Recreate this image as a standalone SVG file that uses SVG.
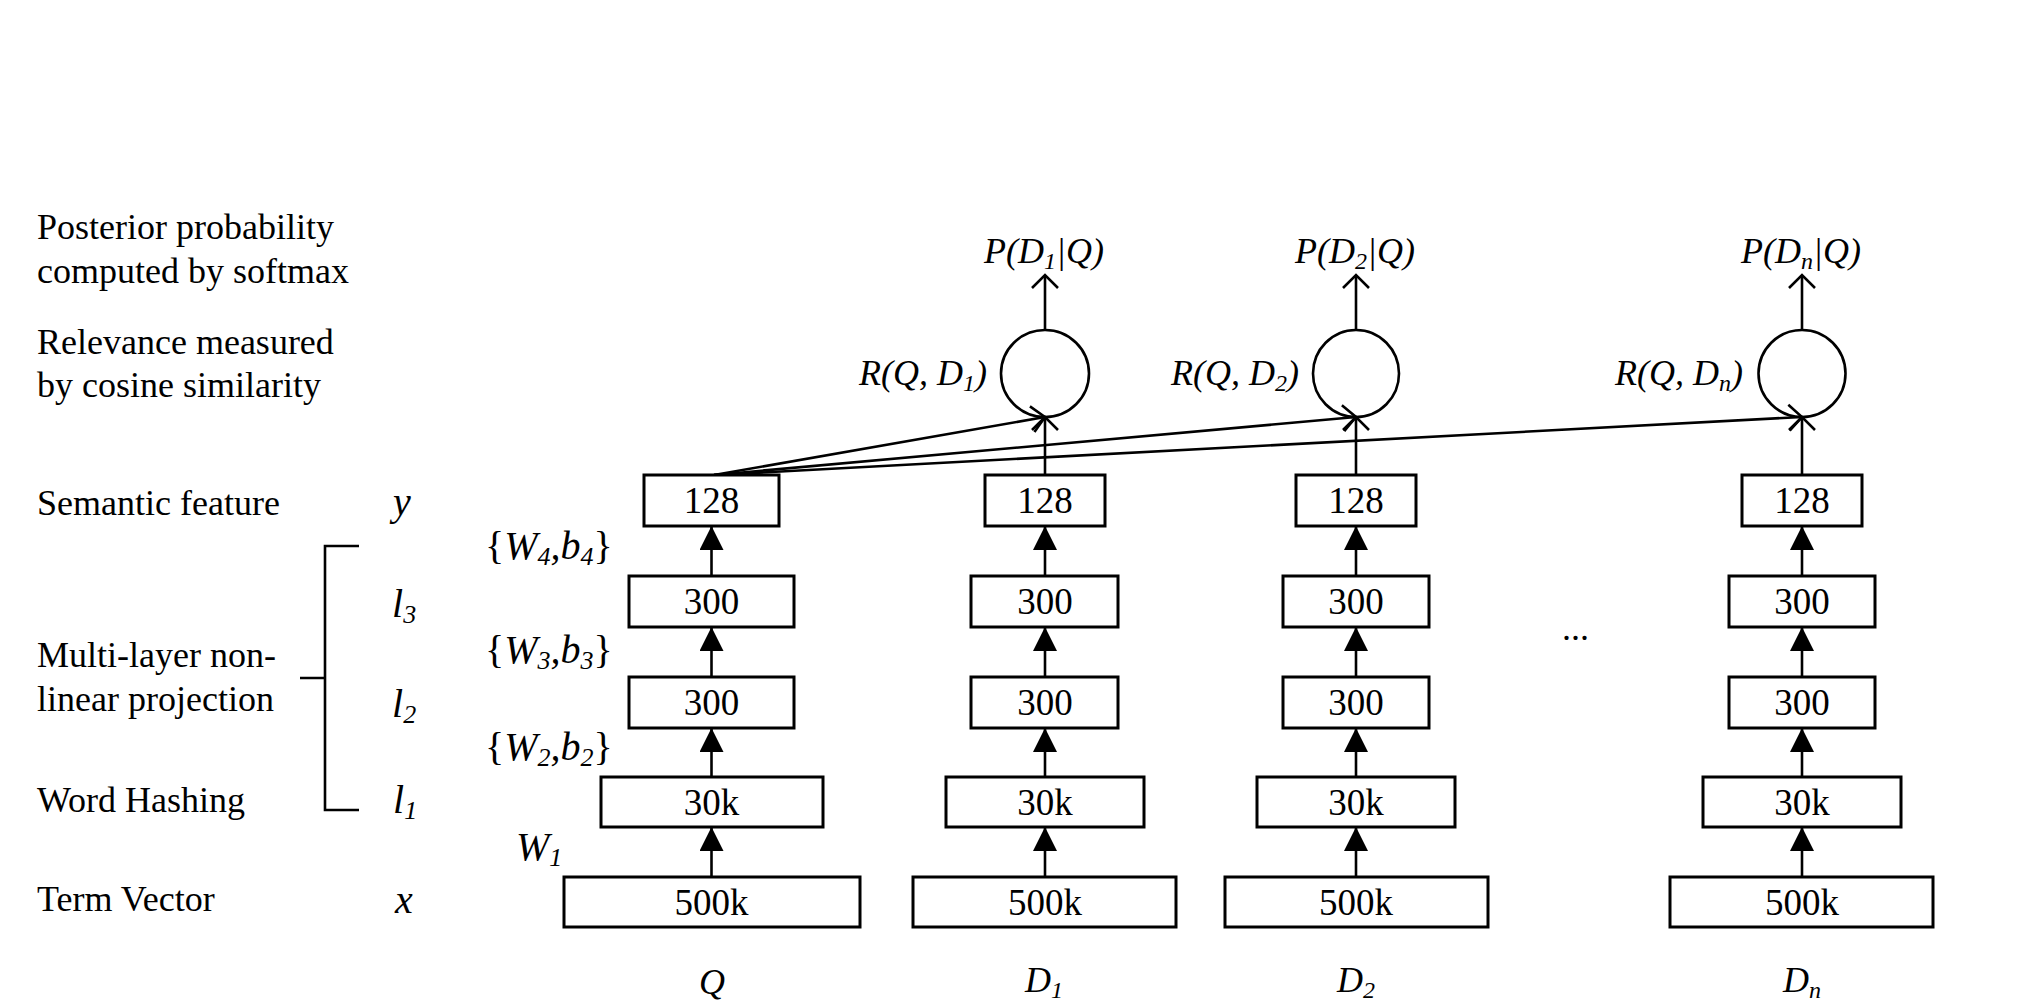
<svg xmlns="http://www.w3.org/2000/svg" width="2018" height="1006" viewBox="0 0 2018 1006">
<style>
text{font-family:"Liberation Serif","Times New Roman",serif;font-size:36px;fill:#000}
.it{font-style:italic}
.var{font-style:italic;font-size:40px}
.sub{font-size:26px}
.up{font-style:normal}
.box{fill:#fff;stroke:#000;stroke-width:3}
.num{text-anchor:middle;font-size:37px}
.circ{fill:none;stroke:#000;stroke-width:2.6}
.ln{stroke:#000;stroke-width:2.6;fill:none}
.fa{marker-end:url(#fill)}
.oa{marker-end:url(#open)}
.brk{stroke:#000;stroke-width:2.6;fill:none}
</style>
<defs>
<marker id="fill" viewBox="0 0 24 24" refX="24" refY="12" markerWidth="24" markerHeight="24" markerUnits="userSpaceOnUse" orient="auto">
<path d="M0,0 L24,12 L0,24 Z" fill="#000"/>
</marker>
<marker id="open" viewBox="-3 -3 19 32" refX="13" refY="13" markerWidth="19" markerHeight="32" markerUnits="userSpaceOnUse" orient="auto">
<path d="M0,0 L13,13 L0,26" fill="none" stroke="#000" stroke-width="2.6"/>
</marker>
</defs>
<rect width="2018" height="1006" fill="#fff"/>

<g id="left-labels">
<text x="37" y="239">Posterior probability</text>
<text x="37" y="283">computed by softmax</text>
<text x="37" y="354">Relevance measured</text>
<text x="37" y="397">by cosine similarity</text>
<text x="37" y="515">Semantic feature</text>
<text x="37" y="667">Multi-layer non-</text>
<text x="37" y="711">linear projection</text>
<text x="37" y="812">Word Hashing</text>
<text x="37" y="911">Term Vector</text>
<text class="var" x="393" y="515">y</text>
<text class="var" x="392" y="617">l<tspan class="sub" dy="6">3</tspan></text>
<text class="var" x="392" y="717">l<tspan class="sub" dy="6">2</tspan></text>
<text class="var" x="393" y="813">l<tspan class="sub" dy="6">1</tspan></text>
<text class="var" x="395" y="913">x</text>
<text class="var" x="485" y="559"><tspan class="up">{</tspan>W<tspan class="sub" dy="6">4</tspan><tspan dy="-6">,b</tspan><tspan class="sub" dy="6">4</tspan><tspan class="up" dy="-6">}</tspan></text>
<text class="var" x="485" y="663"><tspan class="up">{</tspan>W<tspan class="sub" dy="6">3</tspan><tspan dy="-6">,b</tspan><tspan class="sub" dy="6">3</tspan><tspan class="up" dy="-6">}</tspan></text>
<text class="var" x="485" y="760"><tspan class="up">{</tspan>W<tspan class="sub" dy="6">2</tspan><tspan dy="-6">,b</tspan><tspan class="sub" dy="6">2</tspan><tspan class="up" dy="-6">}</tspan></text>
<text class="var" x="516" y="860">W<tspan class="sub" dy="6">1</tspan></text>
<path class="brk" d="M359,546 H325 V810 H359 M300,678 H325"/>
</g>

<g id="connectors">
<line class="ln fa" x1="711.5" y1="877" x2="711.5" y2="827"/>
<line class="ln fa" x1="711.5" y1="777" x2="711.5" y2="728"/>
<line class="ln fa" x1="711.5" y1="677" x2="711.5" y2="627"/>
<line class="ln fa" x1="711.5" y1="576" x2="711.5" y2="526"/>
<line class="ln fa" x1="1045" y1="877" x2="1045" y2="827"/>
<line class="ln fa" x1="1045" y1="777" x2="1045" y2="728"/>
<line class="ln fa" x1="1045" y1="677" x2="1045" y2="627"/>
<line class="ln fa" x1="1045" y1="576" x2="1045" y2="526"/>
<line class="ln fa" x1="1356" y1="877" x2="1356" y2="827"/>
<line class="ln fa" x1="1356" y1="777" x2="1356" y2="728"/>
<line class="ln fa" x1="1356" y1="677" x2="1356" y2="627"/>
<line class="ln fa" x1="1356" y1="576" x2="1356" y2="526"/>
<line class="ln fa" x1="1802" y1="877" x2="1802" y2="827"/>
<line class="ln fa" x1="1802" y1="777" x2="1802" y2="728"/>
<line class="ln fa" x1="1802" y1="677" x2="1802" y2="627"/>
<line class="ln fa" x1="1802" y1="576" x2="1802" y2="526"/>
<line class="ln oa" x1="1045" y1="475" x2="1045" y2="417"/>
<line class="ln oa" x1="1356" y1="475" x2="1356" y2="417"/>
<line class="ln oa" x1="1802" y1="475" x2="1802" y2="417"/>
<line class="ln oa" x1="714" y1="475" x2="1045" y2="417"/>
<line class="ln oa" x1="714" y1="475" x2="1356" y2="417"/>
<line class="ln oa" x1="714" y1="475" x2="1802" y2="417"/>
<line class="ln oa" x1="1045" y1="330" x2="1045" y2="275"/>
<line class="ln oa" x1="1356" y1="330" x2="1356" y2="275"/>
<line class="ln oa" x1="1802" y1="330" x2="1802" y2="275"/>
</g>

<g id="q-500k"><rect class="box" x="564" y="877" width="296" height="50"/><text class="num" x="711.5" y="915">500k</text></g>
<g id="q-30k"><rect class="box" x="601" y="777" width="222" height="50"/><text class="num" x="711.5" y="815">30k</text></g>
<g id="q-300b"><rect class="box" x="629" y="677" width="165" height="51"/><text class="num" x="711.5" y="715">300</text></g>
<g id="q-300a"><rect class="box" x="629" y="576" width="165" height="51"/><text class="num" x="711.5" y="614">300</text></g>
<g id="q-128"><rect class="box" x="644" y="475" width="135" height="51"/><text class="num" x="711.5" y="513">128</text></g>
<text class="it" x="712" y="994" text-anchor="middle">Q</text>

<g id="d1-500k"><rect class="box" x="913" y="877" width="263" height="50"/><text class="num" x="1045" y="915">500k</text></g>
<g id="d1-30k"><rect class="box" x="946" y="777" width="198" height="50"/><text class="num" x="1045" y="815">30k</text></g>
<g id="d1-300b"><rect class="box" x="971" y="677" width="147" height="51"/><text class="num" x="1045" y="715">300</text></g>
<g id="d1-300a"><rect class="box" x="971" y="576" width="147" height="51"/><text class="num" x="1045" y="614">300</text></g>
<g id="d1-128"><rect class="box" x="985" y="475" width="120" height="51"/><text class="num" x="1045" y="513">128</text></g>
<g id="d1-cos"><ellipse class="circ" cx="1045" cy="373.5" rx="44" ry="43.5"/></g>
<text class="it" x="987" y="385" text-anchor="end">R(Q, D<tspan font-size="24" dy="6">1</tspan><tspan dy="-6">)</tspan></text>
<text class="it" x="1044" y="263" text-anchor="middle">P(D<tspan font-size="24" dy="6">1</tspan><tspan dy="-6">|Q)</tspan></text>
<text class="it" x="1044" y="992" text-anchor="middle">D<tspan font-size="24" dy="6">1</tspan></text>

<g id="d2-500k"><rect class="box" x="1225" y="877" width="263" height="50"/><text class="num" x="1356" y="915">500k</text></g>
<g id="d2-30k"><rect class="box" x="1257" y="777" width="198" height="50"/><text class="num" x="1356" y="815">30k</text></g>
<g id="d2-300b"><rect class="box" x="1283" y="677" width="146" height="51"/><text class="num" x="1356" y="715">300</text></g>
<g id="d2-300a"><rect class="box" x="1283" y="576" width="146" height="51"/><text class="num" x="1356" y="614">300</text></g>
<g id="d2-128"><rect class="box" x="1296" y="475" width="120" height="51"/><text class="num" x="1356" y="513">128</text></g>
<g id="d2-cos"><ellipse class="circ" cx="1356" cy="373.5" rx="43" ry="43.5"/></g>
<text class="it" x="1299" y="385" text-anchor="end">R(Q, D<tspan font-size="24" dy="6">2</tspan><tspan dy="-6">)</tspan></text>
<text class="it" x="1355" y="263" text-anchor="middle">P(D<tspan font-size="24" dy="6">2</tspan><tspan dy="-6">|Q)</tspan></text>
<text class="it" x="1356" y="992" text-anchor="middle">D<tspan font-size="24" dy="6">2</tspan></text>

<text x="1562" y="640">...</text>

<g id="dn-500k"><rect class="box" x="1670" y="877" width="263" height="50"/><text class="num" x="1802" y="915">500k</text></g>
<g id="dn-30k"><rect class="box" x="1703" y="777" width="198" height="50"/><text class="num" x="1802" y="815">30k</text></g>
<g id="dn-300b"><rect class="box" x="1729" y="677" width="146" height="51"/><text class="num" x="1802" y="715">300</text></g>
<g id="dn-300a"><rect class="box" x="1729" y="576" width="146" height="51"/><text class="num" x="1802" y="614">300</text></g>
<g id="dn-128"><rect class="box" x="1742" y="475" width="120" height="51"/><text class="num" x="1802" y="513">128</text></g>
<g id="dn-cos"><ellipse class="circ" cx="1802" cy="373.5" rx="43.5" ry="43.5"/></g>
<text class="it" x="1743" y="385" text-anchor="end">R(Q, D<tspan font-size="24" dy="6">n</tspan><tspan dy="-6">)</tspan></text>
<text class="it" x="1801" y="263" text-anchor="middle">P(D<tspan font-size="24" dy="6">n</tspan><tspan dy="-6">|Q)</tspan></text>
<text class="it" x="1802" y="992" text-anchor="middle">D<tspan font-size="24" dy="6">n</tspan></text>
</svg>
